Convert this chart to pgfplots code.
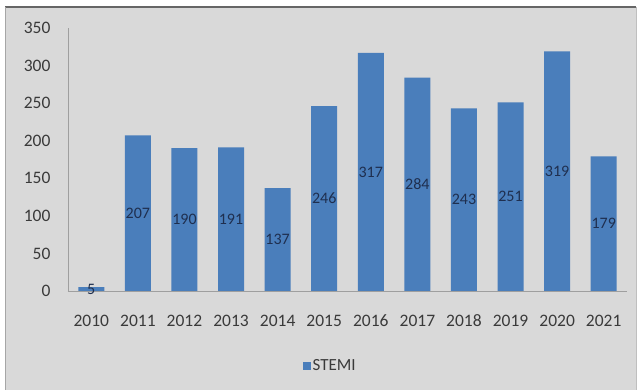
\documentclass[border=0pt]{standalone}
\usepackage{pgfplots}
\usepackage{pgfplotstable}
\pgfplotsset{compat=1.18}
\usepackage{fontspec}
\setmainfont{Carlito}
\definecolor{bg}{HTML}{D9D9D9}
\definecolor{barblue}{HTML}{4A7EBB}
\definecolor{txt}{HTML}{3A3A3A}
\definecolor{lbl}{HTML}{1F2F4F}
\pgfplotstableread{
x y
0 5
1 207
2 190
3 191
4 137
5 246
6 317
7 284
8 243
9 251
10 319
11 179
}\stemi
\begin{document}
\begin{tikzpicture}[x=1pt,y=1pt]
\fill[white] (0,0) rectangle (640,390);
\fill[bg] (5,0) rectangle (636,383);
\draw[gray!80!black, line width=1.2pt] (5,383) -- (636,383);
\draw[gray!70, line width=1pt] (5,0) -- (5,383);
\draw[gray!50, line width=0.8pt] (636,0) -- (636,383);
\begin{axis}[
  at={(68pt,99pt)}, anchor=south west,
  scale only axis, width=559pt, height=263pt,
  xmin=-0.5, xmax=11.5, ymin=0, ymax=350,
  axis lines=left, axis line style={-, gray!75, line width=0.8pt},
  xtick=data,
  xticklabels={2010,2011,2012,2013,2014,2015,2016,2017,2018,2019,2020,2021},
  ytick={0,50,...,350},
  major tick length=0pt,
  /pgf/number format/assume math mode=true,
  tick label style={font=\fontsize{17.5}{20}\selectfont, text=txt},
  xticklabel style={anchor=center, yshift=-30pt},
  yticklabel style={anchor=east, xshift=-14pt},
  legend style={at={(0.469,-0.285)}, anchor=center, draw=none, fill=none,
    font=\fontsize{17}{20}\selectfont, text=txt},
  legend image code/.code={\fill[barblue] (0pt,-4pt) rectangle (8pt,4pt);},
  clip=false,
]
\addplot[ybar, bar width=26pt, fill=barblue, draw=none] table[x=x,y=y] {\stemi};
\addlegendentry{STEMI}
\addplot[only marks, mark=none, forget plot, nodes near coords,
  point meta=explicit symbolic,
  nodes near coords style={anchor=center, font=\fontsize{16}{18}\selectfont, text=lbl}]
  table[x=x, y expr=\thisrow{y}/2, meta=y] {\stemi};
\end{axis}
\end{tikzpicture}
\end{document}
